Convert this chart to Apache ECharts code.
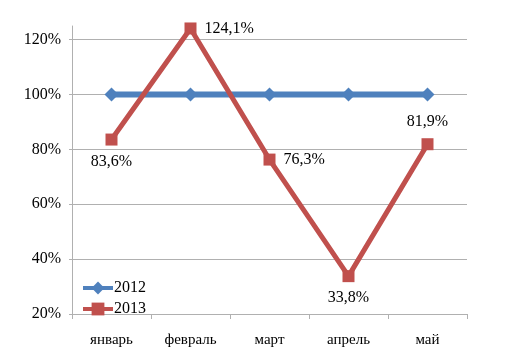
<!DOCTYPE html>
<html>
<head>
<meta charset="utf-8">
<script src="https://cdn.jsdelivr.net/npm/echarts@6/dist/echarts.min.js"></script>
<style>
  html, body { margin: 0; padding: 0; background: #fff; }
  #chart { width: 507px; height: 353px; }
</style>
</head>
<body>
<div id="chart"></div>
<script>
const months = ['январь', 'февраль', 'март', 'апрель', 'май'];
const values2012 = [100, 100, 100, 100, 100];
const values2013 = [83.6, 124.1, 76.3, 33.8, 81.9];
const labelPos2013 = ['bottom', 'right', 'right', 'bottom', 'top'];

const font = 'Liberation Serif';
const chart = echarts.init(document.getElementById('chart'));

const option = {
    animation: false,
    textStyle: { fontFamily: font },
    grid: { left: 72, right: 40, top: 26, bottom: 39 },
    legend: {
        orient: 'vertical',
        left: 76,
        top: 275,
        itemWidth: 30,
        itemHeight: 16,
        itemGap: 5,
        lineStyle: { width: 4 },
        textStyle: { fontFamily: font, fontSize: 16, color: '#000', padding: [0, 0, 0, -4] },
        data: ['2012', '2013']
    },
    xAxis: {
        type: 'category',
        data: months,
        boundaryGap: true,
        axisLine: { lineStyle: { color: '#b0b0b0' } },
        axisTick: { show: true, length: 5, lineStyle: { color: '#b0b0b0' } },
        axisLabel: { color: '#000', fontSize: 15, fontFamily: font, margin: 19 }
    },
    yAxis: {
        type: 'value',
        min: 20,
        max: 125,
        interval: 20,
        axisLine: { show: true, lineStyle: { color: '#b0b0b0' } },
        axisTick: { show: true, length: 3, lineStyle: { color: '#b0b0b0' } },
        axisLabel: {
            color: '#000', fontSize: 16, fontFamily: font, margin: 11,
            showMaxLabel: false,
            formatter: v => v + '%'
        },
        splitLine: { showMaxLine: false, lineStyle: { color: '#b0b0b0' } }
    },
    series: [
        {
            name: '2012',
            type: 'line',
            data: values2012,
            symbol: 'diamond',
            symbolSize: 14,
            lineStyle: { width: 6, color: '#4f81bd' },
            itemStyle: { color: '#4f81bd' },
            z: 2
        },
        {
            name: '2013',
            type: 'line',
            data: values2013.map((v, i) => ({
                value: v,
                label: { position: labelPos2013[i] }
            })),
            symbol: 'rect',
            symbolSize: 12,
            lineStyle: { width: 5, color: '#c0504d' },
            itemStyle: { color: '#c0504d' },
            label: {
                show: true,
                color: '#000',
                fontSize: 16,
                fontFamily: font,
                distance: 8,
                formatter: p => p.value.toFixed(1).replace('.', ',') + '%'
            },
            z: 3
        }
    ]
};
option && chart.setOption(option);
</script>
</body>
</html>
